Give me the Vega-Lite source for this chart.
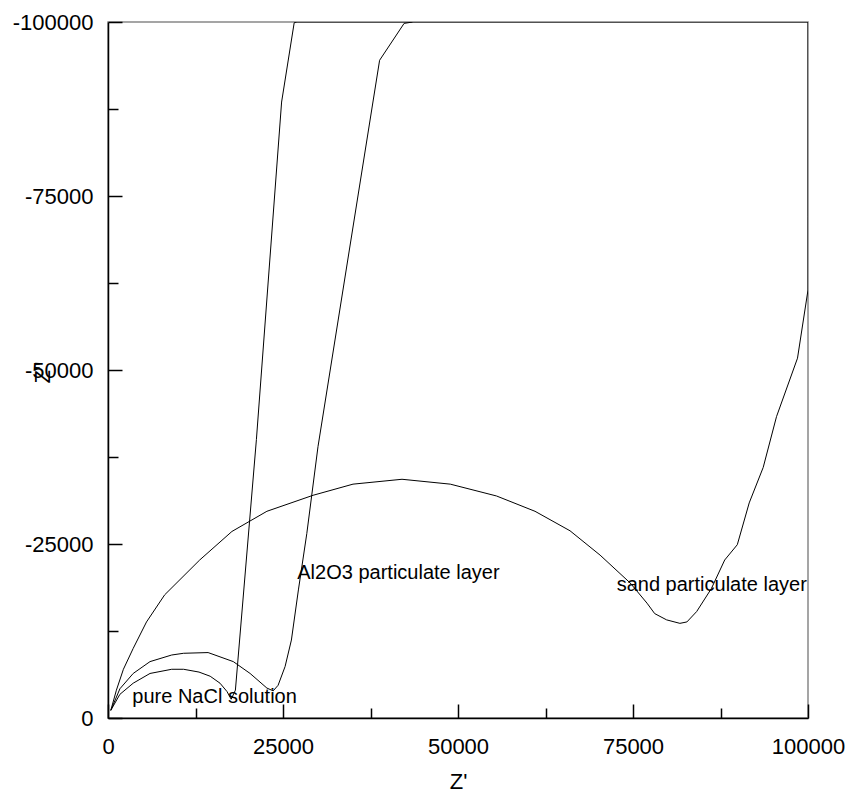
{
  "$schema": "https://vega.github.io/schema/vega-lite/v6.json",
  "autosize": "none",
  "padding": {"left": 108, "top": 22, "right": 45, "bottom": 80},
  "width": 700,
  "height": 696,
  "background": "white",
  "config": {
    "view": {"stroke": "#888888", "strokeWidth": 1.5},
    "font": "Liberation Sans",
    "axis": {"grid": false}
  },
  "datasets": {
    "curves": [
      {"s": "NaCl", "i": 0, "x": 400, "y": -1100},
      {"s": "NaCl", "i": 1, "x": 1700, "y": -3400},
      {"s": "NaCl", "i": 2, "x": 3600, "y": -5000},
      {"s": "NaCl", "i": 3, "x": 6000, "y": -6400},
      {"s": "NaCl", "i": 4, "x": 9100, "y": -7000},
      {"s": "NaCl", "i": 5, "x": 10800, "y": -7000},
      {"s": "NaCl", "i": 6, "x": 13000, "y": -6600},
      {"s": "NaCl", "i": 7, "x": 14600, "y": -6000},
      {"s": "NaCl", "i": 8, "x": 16000, "y": -5000},
      {"s": "NaCl", "i": 9, "x": 17000, "y": -3800},
      {"s": "NaCl", "i": 10, "x": 17600, "y": -2700},
      {"s": "NaCl", "i": 11, "x": 18200, "y": -4000},
      {"s": "NaCl", "i": 12, "x": 21200, "y": -40000},
      {"s": "NaCl", "i": 13, "x": 24800, "y": -88500},
      {"s": "NaCl", "i": 14, "x": 26600, "y": -99900},
      {"s": "NaCl", "i": 15, "x": 27000, "y": -110000},
      {"s": "NaCl", "i": 16, "x": 200000, "y": -300000},
      {"s": "Al2O3", "i": 0, "x": 400, "y": -1100},
      {"s": "Al2O3", "i": 1, "x": 1700, "y": -4200},
      {"s": "Al2O3", "i": 2, "x": 3600, "y": -6400},
      {"s": "Al2O3", "i": 3, "x": 6000, "y": -8100},
      {"s": "Al2O3", "i": 4, "x": 9100, "y": -9050},
      {"s": "Al2O3", "i": 5, "x": 10800, "y": -9300},
      {"s": "Al2O3", "i": 6, "x": 14300, "y": -9400},
      {"s": "Al2O3", "i": 7, "x": 17900, "y": -8100},
      {"s": "Al2O3", "i": 8, "x": 20300, "y": -6400},
      {"s": "Al2O3", "i": 9, "x": 22700, "y": -4300},
      {"s": "Al2O3", "i": 10, "x": 23600, "y": -3900},
      {"s": "Al2O3", "i": 11, "x": 24300, "y": -4700},
      {"s": "Al2O3", "i": 12, "x": 25300, "y": -7400},
      {"s": "Al2O3", "i": 13, "x": 26200, "y": -11200},
      {"s": "Al2O3", "i": 14, "x": 27200, "y": -18400},
      {"s": "Al2O3", "i": 15, "x": 28400, "y": -26500},
      {"s": "Al2O3", "i": 16, "x": 30000, "y": -39000},
      {"s": "Al2O3", "i": 17, "x": 38800, "y": -94500},
      {"s": "Al2O3", "i": 18, "x": 42300, "y": -99800},
      {"s": "Al2O3", "i": 19, "x": 43500, "y": -110000},
      {"s": "sand", "i": 0, "x": 400, "y": -1100},
      {"s": "sand", "i": 1, "x": 1200, "y": -4000},
      {"s": "sand", "i": 2, "x": 2200, "y": -7000},
      {"s": "sand", "i": 3, "x": 3600, "y": -10000},
      {"s": "sand", "i": 4, "x": 5500, "y": -13800},
      {"s": "sand", "i": 5, "x": 8100, "y": -17700},
      {"s": "sand", "i": 6, "x": 13100, "y": -22700},
      {"s": "sand", "i": 7, "x": 17700, "y": -26800},
      {"s": "sand", "i": 8, "x": 22700, "y": -29700},
      {"s": "sand", "i": 9, "x": 29300, "y": -32000},
      {"s": "sand", "i": 10, "x": 35000, "y": -33600},
      {"s": "sand", "i": 11, "x": 42000, "y": -34300},
      {"s": "sand", "i": 12, "x": 48900, "y": -33600},
      {"s": "sand", "i": 13, "x": 55500, "y": -31900},
      {"s": "sand", "i": 14, "x": 61000, "y": -29700},
      {"s": "sand", "i": 15, "x": 66000, "y": -26900},
      {"s": "sand", "i": 16, "x": 70300, "y": -23400},
      {"s": "sand", "i": 17, "x": 74600, "y": -19400},
      {"s": "sand", "i": 18, "x": 77000, "y": -16500},
      {"s": "sand", "i": 19, "x": 78100, "y": -15000},
      {"s": "sand", "i": 20, "x": 79800, "y": -14100},
      {"s": "sand", "i": 21, "x": 81700, "y": -13600},
      {"s": "sand", "i": 22, "x": 82700, "y": -13800},
      {"s": "sand", "i": 23, "x": 84100, "y": -15300},
      {"s": "sand", "i": 24, "x": 86200, "y": -18600},
      {"s": "sand", "i": 25, "x": 88100, "y": -22700},
      {"s": "sand", "i": 26, "x": 89900, "y": -24900},
      {"s": "sand", "i": 27, "x": 91600, "y": -30900},
      {"s": "sand", "i": 28, "x": 93600, "y": -36000},
      {"s": "sand", "i": 29, "x": 95500, "y": -43300},
      {"s": "sand", "i": 30, "x": 98500, "y": -51700},
      {"s": "sand", "i": 31, "x": 100000, "y": -61500},
      {"s": "sand", "i": 32, "x": 101000, "y": -72000},
      {"s": "sand", "i": 33, "x": 110000, "y": -300000}
    ],
    "labels": [
      {"text": "pure NaCl solution", "x": 3470, "y": -2110},
      {"text": "Al2O3 particulate layer", "x": 27040, "y": -19930},
      {"text": "sand particulate layer", "x": 72670, "y": -18290}
    ]
  },
  "layer": [
    {
      "data": {"name": "curves"},
      "mark": {"type": "line", "stroke": "black", "strokeWidth": 1, "clip": true},
      "encoding": {
        "x": {
          "field": "x", "type": "quantitative",
          "scale": {"domain": [0, 100000], "nice": false, "zero": false, "clamp": true},
          "axis": {
            "title": "Z'",
            "values": [0, 12500, 25000, 37500, 50000, 62500, 75000, 87500, 100000],
            "labelExpr": "datum.value % 25000 == 0 ? '' + datum.value : ''",
            "labelFontSize": 22,
            "labelColor": "black",
            "labelFlush": false,
            "labelOverlap": false,
            "labelBound": false,
            "labelPadding": 32,
            "tickSize": {"condition": {"test": "datum.value % 25000 == 0", "value": -14}, "value": -10},
            "tickColor": "black",
            "tickWidth": 1.5,
            "domainColor": "black",
            "domainWidth": 1.5,
            "titleFontSize": 22,
            "titleFontWeight": "normal",
            "titleColor": "black",
            "titleBaseline": "alphabetic",
            "titleY": 70
          }
        },
        "y": {
          "field": "y", "type": "quantitative",
          "scale": {"domain": [0, -100000], "nice": false, "zero": false, "clamp": true},
          "axis": {
            "title": "Z''",
            "values": [0, -12500, -25000, -37500, -50000, -62500, -75000, -87500, -100000],
            "labelExpr": "datum.value % 25000 == 0 ? '' + datum.value : ''",
            "labelFontSize": 22,
            "labelColor": "black",
            "labelFlush": false,
            "labelOverlap": false,
            "labelBound": false,
            "labelPadding": 29,
            "tickSize": {"condition": {"test": "datum.value % 25000 == 0", "value": -14}, "value": -10},
            "tickColor": "black",
            "tickWidth": 1.5,
            "domainColor": "black",
            "domainWidth": 1.5,
            "titleFontSize": 22,
            "titleFontWeight": "normal",
            "titleColor": "black",
            "titleAlign": "center",
            "titleBaseline": "middle",
            "titleX": -66,
            "titleY": 350
          }
        },
        "detail": {"field": "s", "type": "nominal"},
        "order": {"field": "i", "type": "quantitative"}
      }
    },
    {
      "data": {"name": "labels"},
      "mark": {"type": "text", "align": "left", "baseline": "alphabetic", "fontSize": 20, "font": "Liberation Sans", "color": "black"},
      "encoding": {
        "x": {"field": "x", "type": "quantitative"},
        "y": {"field": "y", "type": "quantitative"},
        "text": {"field": "text", "type": "nominal"}
      }
    }
  ]
}
